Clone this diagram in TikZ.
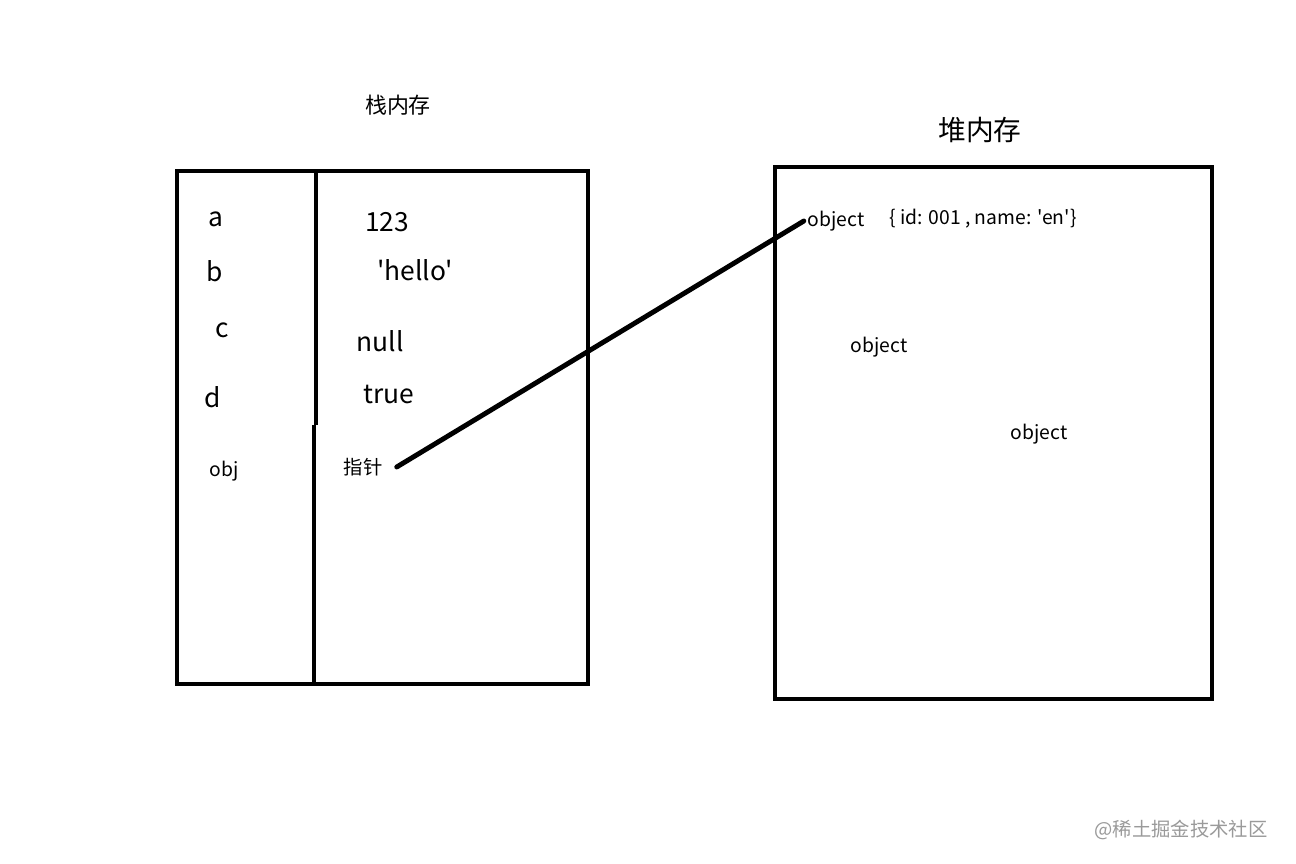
\documentclass[tikz,border=0pt]{standalone}
\usepackage{fontspec}
\setmainfont{Noto Sans CJK SC}
\newfontfamily\plainfont{Noto Sans CJK SC}
\usepackage{tikz}
\usetikzlibrary{positioning}
\usepackage{xcolor}
\definecolor{Ink}{HTML}{000000}
\definecolor{Mark}{HTML}{9A9A9A}

\begin{document}
\begin{tikzpicture}[
            x=0.02cm, y=-0.02cm,
            membox/.style={line width=2.3pt, draw=Ink},
            title/.style={font=\fontsize{12.5}{14}\selectfont, text=Ink, inner sep=0pt},
            bigtitle/.style={font=\fontsize{15.8}{18}\selectfont, text=Ink, inner sep=0pt},
            varname/.style={font=\fontsize{15}{18}\selectfont, text=Ink, inner sep=0pt},
            value/.style={font=\plainfont\fontsize{15}{18}\selectfont, text=Ink, inner sep=0pt},
            small/.style={font=\plainfont\fontsize{11}{13}\selectfont, text=Ink, inner sep=0pt},
            pointer/.style={line width=2.8pt, line cap=round, draw=Ink},
            watermark/.style={font=\fontsize{11}{13}\selectfont, text=Mark, inner sep=0pt}
        ]
            \useasboundingbox[fill=white] (0,0) rectangle (1296,864);

            % Stack memory
            \node[title] (stacktitle) at (398,105) {栈内存};
            \draw[membox] (177,171) rectangle (588,684);
            \draw[membox] (316,171) -- (316,425);
            \draw[membox] (314,425) -- (314,684);

            \node[varname] (va) at (216,219) {a};
            \node[varname] (vb) at (215,271) {b};
            \node[varname] (vc) at (222,330) {c};
            \node[varname] (vd) at (213,397) {d};
            \node[small] (vobj) at (224,471) {obj};

            \node[value] (na) at (387,222) {123};
            \node[value] (nb) at (415,270) {'hello'};
            \node[value] (nc) at (380,341) {null};
            \node[value] (nd) at (389,395) {true};
            \node[small] (ptr) at (363,467) {指针};

            % Heap memory
            \node[bigtitle] (heaptitle) at (980,130) {堆内存};
            \draw[membox] (775,167) rectangle (1212,699);

            \node[small] (heapobj) at (836,221) {object};
            \node[small] (heapval) at (983,219) {\{ id: 001 , name: 'en'\}};
            \node[small] (heapobjb) at (879,347) {object};
            \node[small] (heapobjc) at (1039,434) {object};

            % Reference from stack to heap
            \draw[pointer] ([xshift=8pt]ptr.east) -- ([xshift=-2pt]heapobj.west);

            \node[watermark] (wm) at (1181,830) {@稀土掘金技术社区};
        \end{tikzpicture}
\end{document}
